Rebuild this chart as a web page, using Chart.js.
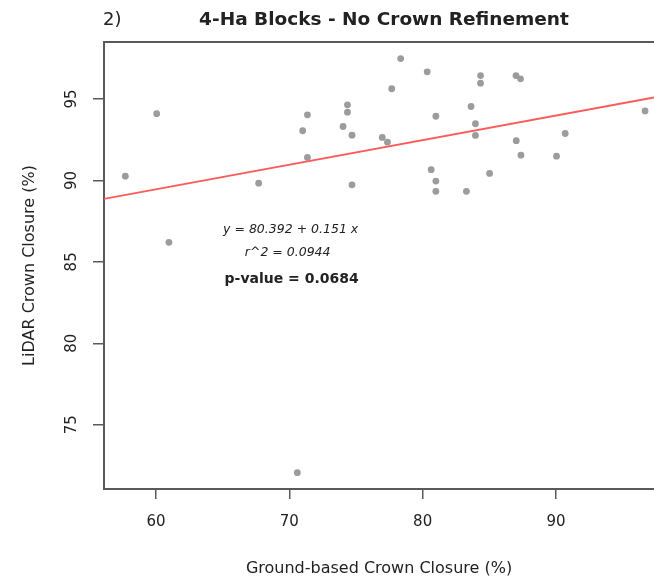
<!DOCTYPE html>
<html>
<head>
<meta charset="utf-8">
<script src="https://cdn.jsdelivr.net/npm/chart.js@4.4.1/dist/chart.umd.min.js"></script>
<style>
  html, body { margin: 0; padding: 0; background: #fff; }
  #wrap { width: 654px; height: 579px; position: relative; }
</style>
</head>
<body>
<div id="wrap"><canvas id="myChart"></canvas></div>
<script>
const groundClosure = [
  57.7, 60.05, 60.97, 67.7, 70.6, 71.0, 71.36, 71.36, 74.03, 74.36, 74.36,
  74.7, 74.7, 76.97, 77.36, 77.68, 78.35, 80.34, 80.64, 80.99, 80.99, 80.99,
  83.28, 83.63, 83.96, 83.96, 84.34, 84.34, 85.02, 87.0, 87.02, 87.34, 87.37,
  90.04, 90.69, 96.68,
];
const lidarClosure = [
  90.26, 94.1, 86.2, 89.83, 72.05, 93.05, 94.03, 91.41, 93.31, 94.64, 94.19,
  92.78, 89.73, 92.64, 92.35, 95.63, 97.48, 96.67, 90.66, 93.94, 89.96, 89.33,
  89.33, 94.54, 93.48, 92.76, 96.44, 95.97, 90.43, 96.44, 92.44, 96.24, 91.55,
  91.49, 92.88, 94.27,
];
const xTicks = [60, 70, 80, 90];
const yTicks = [75, 80, 85, 90, 95];
const intercept = 80.392;
const slope = 0.151;
const rSquared = "0.0944";
const pValue = "0.0684";

const xMin = 56.1;
const xMax = 97.35;
const yMin = 71.05;
const yMax = 98.5;

const points = groundClosure.map((g, i) => ({ x: g, y: lidarClosure[i] }));
const fitLine = [xMin, xMax].map((x) => ({ x: x, y: intercept + slope * x }));

const axisColor = "#5a5a5a";
const textColor = "#222";

function drawText(ctx, text, x, y, font, align) {
  ctx.font = font;
  ctx.fillStyle = textColor;
  ctx.textAlign = align || "center";
  ctx.textBaseline = "middle";
  ctx.fillText(text, x, y);
}

const ctx = document.getElementById("myChart").getContext("2d");
const myChart = new Chart(ctx, {
  type: "scatter",
  data: {
    datasets: [
      {
        label: "fit",
        type: "line",
        data: fitLine,
        borderColor: "#ff5a5a",
        borderWidth: 1.8,
        pointRadius: 0,
        fill: false,
      },
      {
        label: "blocks",
        data: points,
        backgroundColor: "#9c9c9c",
        borderWidth: 0,
        pointRadius: 3.4,
        pointHoverRadius: 3.4,
      },
    ],
  },
  options: {
    responsive: true,
    maintainAspectRatio: false,
    animation: false,
    layout: {
      autoPadding: false,
      padding: { top: 42, left: 0, right: 0, bottom: 0 },
    },
    scales: {
      x: {
        type: "linear",
        min: xMin,
        max: xMax,
        afterBuildTicks: (scale) => {
          scale.ticks = xTicks.map((v) => ({ value: v }));
        },
        afterFit: (scale) => {
          scale.height = 90;
        },
        grid: {
          drawOnChartArea: false,
          drawTicks: true,
          tickLength: 10,
          color: axisColor,
          lineWidth: 1.5,
        },
        border: { display: true, color: axisColor, width: 2 },
        ticks: {
          padding: 14,
          color: textColor,
          font: { family: "DejaVu Sans", size: 15 },
        },
        title: {
          display: true,
          text: "Ground-based Crown Closure (%)",
          color: textColor,
          font: { family: "DejaVu Sans", size: 16 },
          padding: { top: 0, bottom: 1 },
        },
      },
      y: {
        type: "linear",
        min: yMin,
        max: yMax,
        afterBuildTicks: (scale) => {
          scale.ticks = yTicks.map((v) => ({ value: v }));
        },
        afterFit: (scale) => {
          scale.width = 104;
        },
        grid: {
          drawOnChartArea: false,
          drawTicks: true,
          tickLength: 11,
          color: axisColor,
          lineWidth: 1.5,
        },
        border: { display: true, color: axisColor, width: 2 },
        ticks: {
          minRotation: 90,
          maxRotation: 90,
          crossAlign: "center",
          padding: 11,
          color: textColor,
          font: { family: "DejaVu Sans", size: 15 },
        },
        title: {
          display: true,
          text: "LiDAR Crown Closure (%)",
          color: textColor,
          font: { family: "DejaVu Sans", size: 16 },
          padding: { top: 20, bottom: 0 },
        },
      },
    },
    plugins: {
      legend: { display: false },
      tooltip: { enabled: false },
      title: { display: false },
    },
  },
  plugins: [
    {
      id: "frameAndText",
      afterDraw: (chart) => {
        const c = chart.ctx;
        const area = chart.chartArea;
        c.save();
        // top side of the box (right side is cut off in the original)
        c.strokeStyle = axisColor;
        c.lineWidth = 2;
        c.beginPath();
        c.moveTo(area.left - 1, area.top);
        c.lineTo(area.right, area.top);
        c.stroke();

        drawText(c, "4-Ha Blocks - No Crown Refinement", 384, 20,
          "bold 18.5px 'DejaVu Sans'");
        drawText(c, "2)", 103, 20, "18px 'DejaVu Sans'", "left");

        const xs = chart.scales.x;
        const ys = chart.scales.y;
        const cx = xs.getPixelForValue(70.1);
        drawText(c, "y = " + intercept + " + " + slope + " x", cx, ys.getPixelForValue(86.95),
          "italic 12.5px 'DejaVu Sans'");
        drawText(c, "r^2 = " + rSquared, cx - 3, ys.getPixelForValue(85.55),
          "italic 12.5px 'DejaVu Sans'");
        drawText(c, "p-value = " + pValue, cx + 1, ys.getPixelForValue(83.95),
          "bold 14px 'DejaVu Sans'");
        c.restore();
      },
    },
  ],
});
</script>
</body>
</html>
